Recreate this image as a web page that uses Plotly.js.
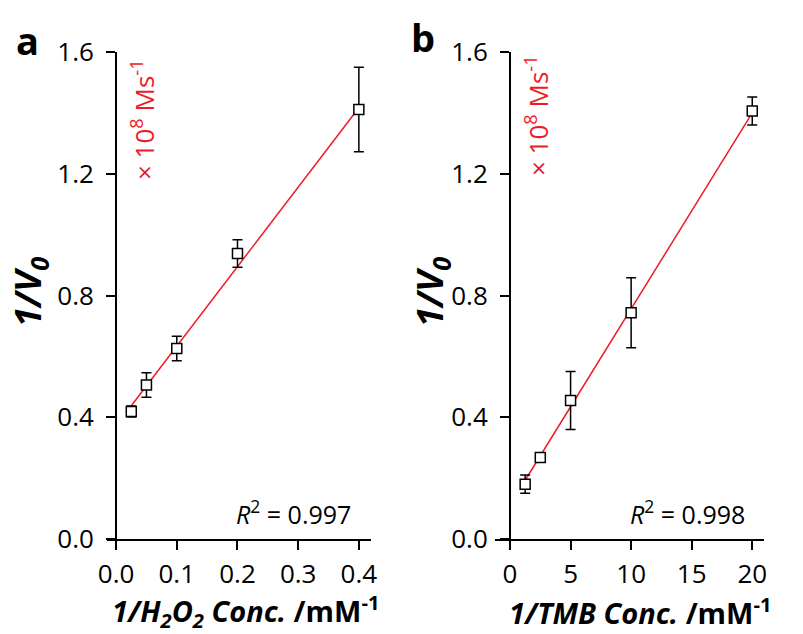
<!DOCTYPE html>
<html><head><meta charset="utf-8">
<script src="https://cdn.plot.ly/plotly-3.0.1.min.js"></script>
<style>body{margin:0;background:#fff}#chart{width:803px;height:634px}</style>
</head><body><div id="chart"></div>
<script>
// Panel a: 1/[H2O2]
const xA = [0.025, 0.05, 0.1, 0.2, 0.4];
const yA = [0.419, 0.506, 0.626, 0.938, 1.411];
const errA = [0.018, 0.04, 0.04, 0.045, 0.139];
const fitAx = [0.025, 0.4];
const fitAy = [0.438, 1.417];
// Panel b: 1/[TMB]
const xB = [1.25, 2.5, 5, 10, 20];
const yB = [0.18, 0.268, 0.455, 0.743, 1.406];
const errB = [0.03, 0.012, 0.095, 0.115, 0.046];
const fitBx = [1.25, 20];
const fitBy = [0.193, 1.40];
// ticks
const yTicks = [0, 0.4, 0.8, 1.2, 1.6];
const yTickText = ['0.0', '0.4', '0.8', '1.2', '1.6'];
const xTicksA = [0, 0.1, 0.2, 0.3, 0.4];
const xTickTextA = ['0.0', '0.1', '0.2', '0.3', '0.4'];
const xTicksB = [0, 5, 10, 15, 20];
const xTickTextB = ['0', '5', '10', '15', '20'];
const r2A = '0.997', r2B = '0.998';

const W = 803, H = 634;
const FONT = 'Open Sans';
const RED = '#ed1c24';
const px = v => v / W, py = v => 1 - v / H;

const domA = [px(107), px(371)], domB = [px(495), px(764)];
const rangeA = [-0.015, 0.42], rangeB = [-1.24, 20.97];
const yDom = [py(539), py(52)];
const zeroPos = (dom, r) => dom[0] + (0 - r[0]) / (r[1] - r[0]) * (dom[1] - dom[0]);

function pts(x, y, err, xa, ya) {
  return {x: x, y: y, xaxis: xa, yaxis: ya, type: 'scatter', mode: 'markers',
    marker: {symbol: 'square', size: 10, color: 'white', line: {color: 'black', width: 1.5}},
    error_y: {type: 'data', array: err, visible: true, color: 'black', thickness: 1.5, width: 5},
    cliponaxis: false, showlegend: false, hoverinfo: 'x+y'};
}
function fit(x, y, xa, ya) {
  return {x: x, y: y, xaxis: xa, yaxis: ya, type: 'scatter', mode: 'lines',
    line: {color: RED, width: 1.5}, showlegend: false, hoverinfo: 'skip'};
}

const data = [fit(fitAx, fitAy, 'x', 'y'), pts(xA, yA, errA, 'x', 'y'),
              fit(fitBx, fitBy, 'x2', 'y2'), pts(xB, yB, errB, 'x2', 'y2')];

const axCommon = {showline: true, linecolor: 'black', linewidth: 2, ticks: 'outside',
  ticklen: 9, tickwidth: 2, tickcolor: 'black', showgrid: false, zeroline: false,
  tickfont: {family: FONT, size: 26, color: 'black'}, automargin: false, fixedrange: true};

const layout = {
  width: W, height: H, margin: {l: 0, r: 0, t: 0, b: 0},
  paper_bgcolor: 'white', plot_bgcolor: 'white',
  font: {family: FONT, color: 'black'},
  xaxis: Object.assign({}, axCommon, {domain: domA, range: rangeA, anchor: 'y',
    tickmode: 'array', tickvals: xTicksA, ticktext: xTickTextA, ticklabelstandoff: 2}),
  yaxis: Object.assign({}, axCommon, {domain: yDom, range: [0, 1.6], anchor: 'free',
    position: zeroPos(domA, rangeA), tickmode: 'array', tickvals: yTicks, ticktext: yTickText,
    ticklabelstandoff: 7}),
  xaxis2: Object.assign({}, axCommon, {domain: domB, range: rangeB, anchor: 'y2',
    tickmode: 'array', tickvals: xTicksB, ticktext: xTickTextB, ticklabelstandoff: 2}),
  yaxis2: Object.assign({}, axCommon, {domain: yDom, range: [0, 1.6], anchor: 'free',
    position: zeroPos(domB, rangeB), tickmode: 'array', tickvals: yTicks, ticktext: yTickText,
    ticklabelstandoff: 7}),
  annotations: [
    {text: '<b>a</b>', x: px(27), y: py(40), font: {size: 38}},
    {text: '<b>b</b>', x: px(423), y: py(37), font: {size: 38}},
    {text: '<b><i>1/V<sub>0</sub></i></b>', x: px(29), y: py(292), textangle: -90, font: {size: 36}},
    {text: '<b><i>1/V<sub>0</sub></i></b>', x: px(431), y: py(292), textangle: -90, font: {size: 36}},
    {text: '<b><i>1/H<sub>2</sub>O<sub>2</sub> Conc.</i> /mM<sup>-1</sup></b>', x: px(246), y: py(611), font: {size: 29}},
    {text: '<b><i>1/TMB Conc.</i> /mM<sup>-1</sup></b>', x: px(640), y: py(611), font: {size: 29}},
    {text: '× 10<sup>8</sup> Ms<sup>-1</sup>', x: px(143), y: py(120), textangle: -90, font: {size: 26, color: RED}},
    {text: '× 10<sup>8</sup> Ms<sup>-1</sup>', x: px(537), y: py(116), textangle: -90, font: {size: 26, color: RED}},
    {text: '<i>R</i><sup>2</sup> = ' + r2A, x: px(293), y: py(512), font: {size: 25}},
    {text: '<i>R</i><sup>2</sup> = ' + r2B, x: px(687), y: py(512), font: {size: 25}}
  ].map(a => Object.assign({xref: 'paper', yref: 'paper', showarrow: false,
    xanchor: 'center', yanchor: 'middle'}, a, {font: Object.assign({family: FONT, color: 'black'}, a.font)}))
};

Plotly.newPlot('chart', data, layout, {displayModeBar: false, staticPlot: true});
</script></body></html>
